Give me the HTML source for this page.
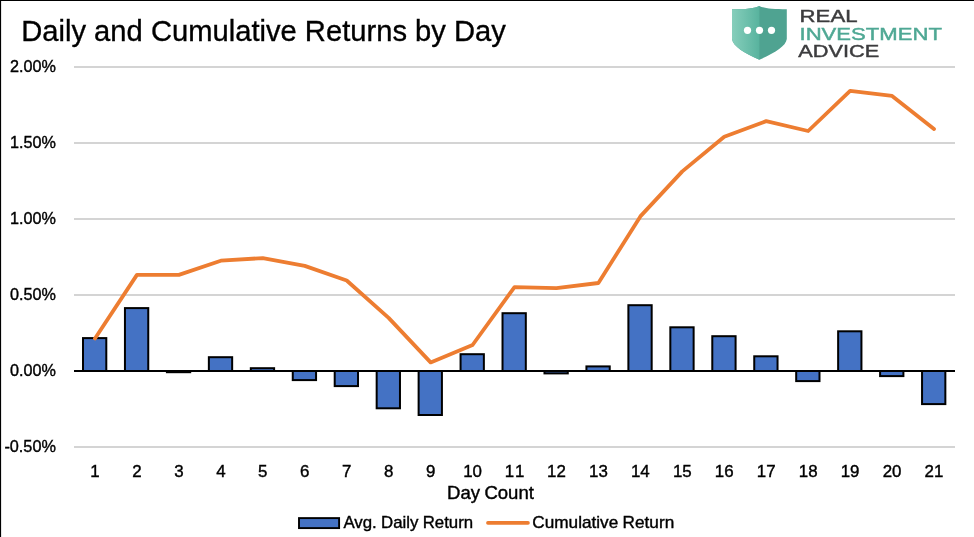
<!DOCTYPE html>
<html lang="en">
<head>
<meta charset="utf-8">
<title>Daily and Cumulative Returns by Day</title>
<style>
html,body{margin:0;padding:0;background:#fff;}
body{width:974px;height:537px;overflow:hidden;}
svg{display:block;position:absolute;left:0;top:0;}
text{font-family:"Liberation Sans",Arial,Helvetica,sans-serif;fill:#000;}
.lbl{font-size:16.9px;stroke:#000;stroke-width:0.4px;}
.txt{font-size:18.2px;word-spacing:-0.7px;}
.leg{font-size:17px;word-spacing:-0.4px;}
.title{font-size:29.3px;stroke:#000;stroke-width:0.35px;}
.logo{font-size:17.2px;stroke-width:0.45px;}
</style>
</head>
<body>
<svg width="974" height="537" viewBox="0 0 974 537">
<defs>
<linearGradient id="shl" x1="0" y1="0" x2="1" y2="0">
<stop offset="0" stop-color="#86cebb"/>
<stop offset="1" stop-color="#58b39e"/>
</linearGradient>
</defs>
<rect x="0" y="0" width="974" height="537" fill="#ffffff"/>
<rect x="0" y="0" width="974" height="1" fill="#000"/>
<rect x="0" y="0" width="1.1" height="537" fill="#000"/>
<text class="title" x="21.2" y="40.7" textLength="484.7" lengthAdjust="spacingAndGlyphs">Daily and Cumulative Returns by Day</text>
<g stroke="#d4d4d4" stroke-width="2" fill="none">
<line x1="74.0" y1="67" x2="955.0" y2="67"/>
<line x1="74.0" y1="143" x2="955.0" y2="143"/>
<line x1="74.0" y1="219" x2="955.0" y2="219"/>
<line x1="74.0" y1="295" x2="955.0" y2="295"/>
<line x1="74.0" y1="447" x2="955.0" y2="447"/>
</g>
<g class="lbl" text-anchor="end">
<text x="55.9" y="72.2" textLength="45.9" lengthAdjust="spacingAndGlyphs">2.00%</text>
<text x="55.9" y="148.2" textLength="45.9" lengthAdjust="spacingAndGlyphs">1.50%</text>
<text x="55.9" y="224.2" textLength="45.9" lengthAdjust="spacingAndGlyphs">1.00%</text>
<text x="55.9" y="300.2" textLength="45.9" lengthAdjust="spacingAndGlyphs">0.50%</text>
<text x="55.9" y="376.2" textLength="45.9" lengthAdjust="spacingAndGlyphs">0.00%</text>
<text x="55.9" y="452.2" textLength="51.5" lengthAdjust="spacingAndGlyphs">-0.50%</text>
</g>
<g fill="#4472c4" stroke="#000" stroke-width="2.0">
<rect x="83.00" y="338.10" width="23.30" height="32.90"/>
<rect x="124.95" y="308.10" width="23.30" height="62.90"/>
<rect x="166.90" y="371.00" width="23.30" height="1.20"/>
<rect x="208.86" y="357.20" width="23.30" height="13.80"/>
<rect x="250.81" y="368.20" width="23.30" height="2.80"/>
<rect x="292.76" y="371.00" width="23.30" height="9.10"/>
<rect x="334.71" y="371.00" width="23.30" height="15.10"/>
<rect x="376.67" y="371.00" width="23.30" height="37.30"/>
<rect x="418.62" y="371.00" width="23.30" height="44.00"/>
<rect x="460.57" y="354.20" width="23.30" height="16.80"/>
<rect x="502.52" y="313.20" width="23.30" height="57.80"/>
<rect x="544.48" y="371.00" width="23.30" height="2.40"/>
<rect x="586.43" y="366.40" width="23.30" height="4.60"/>
<rect x="628.38" y="305.20" width="23.30" height="65.80"/>
<rect x="670.33" y="327.30" width="23.30" height="43.70"/>
<rect x="712.29" y="336.20" width="23.30" height="34.80"/>
<rect x="754.24" y="356.30" width="23.30" height="14.70"/>
<rect x="796.19" y="371.00" width="23.30" height="10.10"/>
<rect x="838.14" y="331.30" width="23.30" height="39.70"/>
<rect x="880.10" y="371.00" width="23.30" height="5.10"/>
<rect x="922.05" y="371.00" width="23.30" height="33.10"/>
</g>
<line x1="74.0" y1="371.0" x2="955.0" y2="371.0" stroke="#000" stroke-width="2"/>
<polyline points="94.98,338.5 136.93,274.9 178.88,274.9 220.83,260.7 262.79,258.1 304.74,265.9 346.69,280.5 388.64,317.9 430.60,362.4 472.55,345.0 514.50,287.1 556.45,288.2 598.40,283.0 640.36,216.4 682.31,171.4 724.26,136.7 766.21,121.1 808.17,131.0 850.12,90.9 892.07,95.9 934.02,129.1" fill="none" stroke="#ed7d31" stroke-width="3.8" stroke-linecap="round" stroke-linejoin="round"/>
<g class="lbl" text-anchor="middle">
<text x="94.98" y="476.9">1</text>
<text x="136.93" y="476.9">2</text>
<text x="178.88" y="476.9">3</text>
<text x="220.83" y="476.9">4</text>
<text x="262.79" y="476.9">5</text>
<text x="304.74" y="476.9">6</text>
<text x="346.69" y="476.9">7</text>
<text x="388.64" y="476.9">8</text>
<text x="430.60" y="476.9">9</text>
<text x="472.55" y="476.9">10</text>
<text x="514.50" y="476.9" textLength="19.7" lengthAdjust="spacing">11</text>
<text x="556.45" y="476.9">12</text>
<text x="598.40" y="476.9">13</text>
<text x="640.36" y="476.9">14</text>
<text x="682.31" y="476.9">15</text>
<text x="724.26" y="476.9">16</text>
<text x="766.21" y="476.9">17</text>
<text x="808.17" y="476.9">18</text>
<text x="850.12" y="476.9">19</text>
<text x="892.07" y="476.9">20</text>
<text x="934.02" y="476.9">21</text>
</g>
<text class="lbl txt" x="447" y="498.7" textLength="86.9" lengthAdjust="spacingAndGlyphs">Day Count</text>
<rect x="299" y="518.1" width="40.1" height="10" fill="#4472c4" stroke="#000" stroke-width="1.9"/>
<text class="lbl leg" x="343.4" y="527.6" textLength="129.8" lengthAdjust="spacingAndGlyphs">Avg. Daily Return</text>
<line x1="487.9" y1="522.9" x2="528" y2="522.9" stroke="#ed7d31" stroke-width="3.6" stroke-linecap="round"/>
<text class="lbl leg" x="532.3" y="527.6" textLength="141.9" lengthAdjust="spacingAndGlyphs">Cumulative Return</text>
<g>
<path d="M759.4 5.9 C755 8.3 746 9.2 732 9.2 L732 39 C733 46.5 744.5 53 759.4 59.8 C774.3 53 785.8 46.5 786.8 39 L786.8 9.2 C773 9.2 764 8.3 759.4 5.9 Z" fill="#4fa391"/>
<path d="M759.4 5.9 C755 8.3 746 9.2 732 9.2 L732 39 C733 46.5 744.5 53 759.4 59.8 Z" fill="url(#shl)"/>
<circle cx="747.5" cy="30.3" r="3.6" fill="#fff"/>
<circle cx="759.5" cy="30.3" r="3.6" fill="#fff"/>
<circle cx="771.5" cy="30.3" r="3.6" fill="#fff"/>
<text class="logo" x="799.6" y="22.1" textLength="57.9" lengthAdjust="spacingAndGlyphs" style="fill:#3c3c3e;stroke:#3c3c3e">REAL</text>
<text class="logo" x="799.5" y="39.5" textLength="142.4" lengthAdjust="spacingAndGlyphs" style="fill:#4fa894;stroke:#4fa894">INVESTMENT</text>
<text class="logo" x="798.3" y="56.9" textLength="80.9" lengthAdjust="spacingAndGlyphs" style="fill:#3c3c3e;stroke:#3c3c3e">ADVICE</text>
</g>
</svg>
</body>
</html>
